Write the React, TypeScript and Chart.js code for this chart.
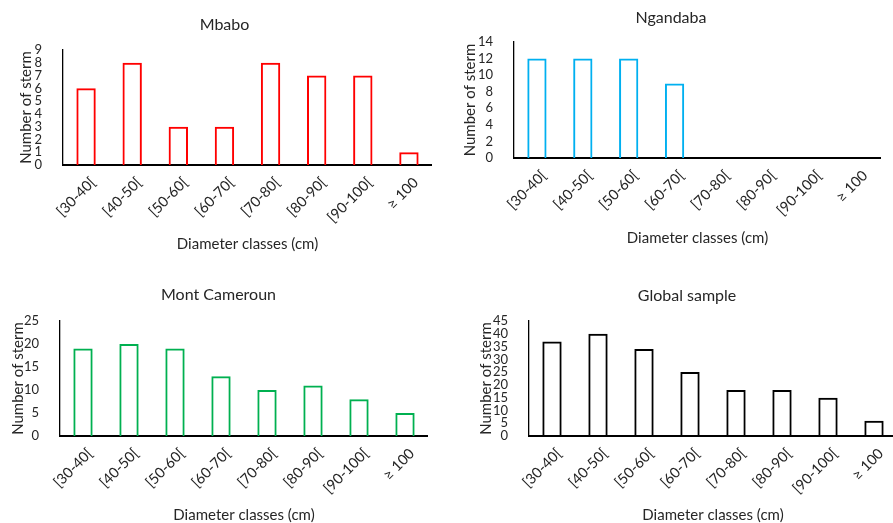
import { useEffect, useRef } from "react";
import { Chart, registerables } from "chart.js";

Chart.register(...registerables);

// Diameter classes shared by every panel
const diameterClasses = ["[30-40[", "[40-50[", "[50-60[", "[60-70[", "[70-80[", "[80-90[", "[90-100[", "≥ 100"];

// Stem counts per diameter class
const mbaboStems = [6, 8, 3, 3, 8, 7, 7, 1];
const ngandabaStems = [12, 12, 12, 9, 0, 0, 0, 0];
const montCamerounStems = [19, 20, 19, 13, 10, 11, 8, 5];
const globalStems = [37, 40, 34, 25, 18, 18, 15, 6];

// Panel titles and y-axis tick ranges
const panelTitles = ["Mbabo", "Ngandaba", "Mont Cameroun", "Global sample"];
const yMaxima = [9, 14, 25, 45];
const yStepSizes = [1, 2, 5, 5];

const xAxisTitle = "Diameter classes (cm)";
const yAxisTitle = "Number of sterm";

const FONT = "Lato, 'Open Sans', sans-serif";
const TEXT_COLOR = "#262626";
const TITLE_SIZE = 16;
const AXIS_TITLE_SIZE = 15;
const X_TICK_SIZE = 14.5;
const Y_TICK_SIZE = 13;

type Rect = { x: number; y: number; w: number; h: number };
type Plot = { l: number; t: number; r: number; b: number };

interface PanelSpec {
  title: string;
  values: number[];
  color: string;
  yMax: number;
  yStep: number;
  box: Rect;
  plot: Plot;
  titleY: number;
  yTitleX: number;
  xTitleY: number;
}

const panels: PanelSpec[] = [
  {
    title: panelTitles[0],
    values: mbaboStems,
    color: "#FF0000",
    yMax: yMaxima[0],
    yStep: yStepSizes[0],
    box: { x: 0, y: 0, w: 432, h: 254 },
    plot: { l: 63, t: 50, r: 432, b: 165 },
    titleY: 24.5,
    yTitleX: 26,
    xTitleY: 244.5,
  },
  {
    title: panelTitles[1],
    values: ngandabaStems,
    color: "#00B0F0",
    yMax: yMaxima[1],
    yStep: yStepSizes[1],
    box: { x: 443, y: 0, w: 438, h: 248 },
    plot: { l: 514, t: 42, r: 881, b: 158 },
    titleY: 18,
    yTitleX: 470,
    xTitleY: 238.5,
  },
  {
    title: panelTitles[2],
    values: montCamerounStems,
    color: "#00B050",
    yMax: yMaxima[2],
    yStep: yStepSizes[2],
    box: { x: 0, y: 262, w: 428, h: 262 },
    plot: { l: 60, t: 321, r: 428, b: 436 },
    titleY: 295.3,
    yTitleX: 18,
    xTitleY: 515,
  },
  {
    title: panelTitles[3],
    values: globalStems,
    color: "#000000",
    yMax: yMaxima[3],
    yStep: yStepSizes[3],
    box: { x: 443, y: 262, w: 454, h: 262 },
    plot: { l: 529, t: 321, r: 897, b: 436 },
    titleY: 295.5,
    yTitleX: 486,
    xTitleY: 515,
  },
];

function BarPanel({ spec }: { spec: PanelSpec }) {
  const ref = useRef<HTMLCanvasElement>(null);

  useEffect(() => {
    const canvas = ref.current;
    if (!canvas) return;
    const { box, plot } = spec;
    const axisLH = AXIS_TITLE_SIZE * 1.2;
    const titleLH = TITLE_SIZE * 1.2;

    const padLeft = spec.yTitleX - axisLH / 2 - box.x;
    const padRight = box.x + box.w - plot.r;
    const padBottom = box.y + box.h - (spec.xTitleY + axisLH / 2);
    const titleTop = spec.titleY - titleLH / 2 - box.y;
    const titleBottom = plot.t - box.y - titleTop - titleLH;
    const yWidth = plot.l - box.x - padLeft;
    const xHeight = box.y + box.h - padBottom - plot.b;

    const chart = new Chart(canvas, {
      type: "bar",
      data: {
        labels: diameterClasses,
        datasets: [
          {
            data: spec.values,
            backgroundColor: "rgba(255,255,255,0)",
            borderColor: spec.color,
            borderWidth: 2,
            borderSkipped: "start",
            inflateAmount: 0,
            barPercentage: 0.42,
            categoryPercentage: 1,
          },
        ],
      },
      options: {
        responsive: false,
        animation: false,
        devicePixelRatio: 1,
        layout: { padding: { left: padLeft, right: padRight, top: 0, bottom: padBottom } },
        plugins: {
          legend: { display: false },
          tooltip: { enabled: false },
          title: {
            display: true,
            text: spec.title,
            color: TEXT_COLOR,
            font: { family: FONT, size: TITLE_SIZE, weight: "normal", lineHeight: 1.2 },
            padding: { top: titleTop, bottom: titleBottom },
          },
        },
        scales: {
          x: {
            grid: { display: false },
            border: { display: true, color: "#000000", width: 2 },
            ticks: {
              autoSkip: false,
              minRotation: 45,
              maxRotation: 45,
              color: TEXT_COLOR,
              font: { family: FONT, size: X_TICK_SIZE },
              padding: 1,
              labelOffset: 7,
            },
            title: {
              display: true,
              text: xAxisTitle,
              color: TEXT_COLOR,
              font: { family: FONT, size: AXIS_TITLE_SIZE, lineHeight: 1.2 },
              padding: 0,
            },
            afterFit: (scale: any) => {
              scale.height = xHeight;
            },
          },
          y: {
            min: 0,
            max: spec.yMax,
            grid: { display: false },
            border: { display: true, color: "#000000", width: 1.3 },
            ticks: {
              stepSize: spec.yStep,
              autoSkip: false,
              maxTicksLimit: 20,
              color: TEXT_COLOR,
              font: { family: FONT, size: Y_TICK_SIZE, lineHeight: 0.8 },
              padding: 13,
            },
            title: {
              display: true,
              text: yAxisTitle,
              color: TEXT_COLOR,
              font: { family: FONT, size: AXIS_TITLE_SIZE, lineHeight: 1.2 },
              padding: 0,
            },
            afterFit: (scale: any) => {
              scale.width = yWidth;
            },
          },
        },
      },
    } as any);

    return () => chart.destroy();
  }, [spec]);

  return (
    <canvas
      ref={ref}
      width={spec.box.w}
      height={spec.box.h}
      style={{
        position: "absolute",
        left: spec.box.x,
        top: spec.box.y,
        width: spec.box.w,
        height: spec.box.h,
      }}
    />
  );
}

export default function App() {
  return (
    <div
      style={{
        position: "absolute",
        left: 0,
        top: 0,
        width: 893,
        height: 523,
        overflow: "hidden",
        background: "#ffffff",
      }}
    >
      {panels.map((p) => (
        <BarPanel key={p.title} spec={p} />
      ))}
    </div>
  );
}
